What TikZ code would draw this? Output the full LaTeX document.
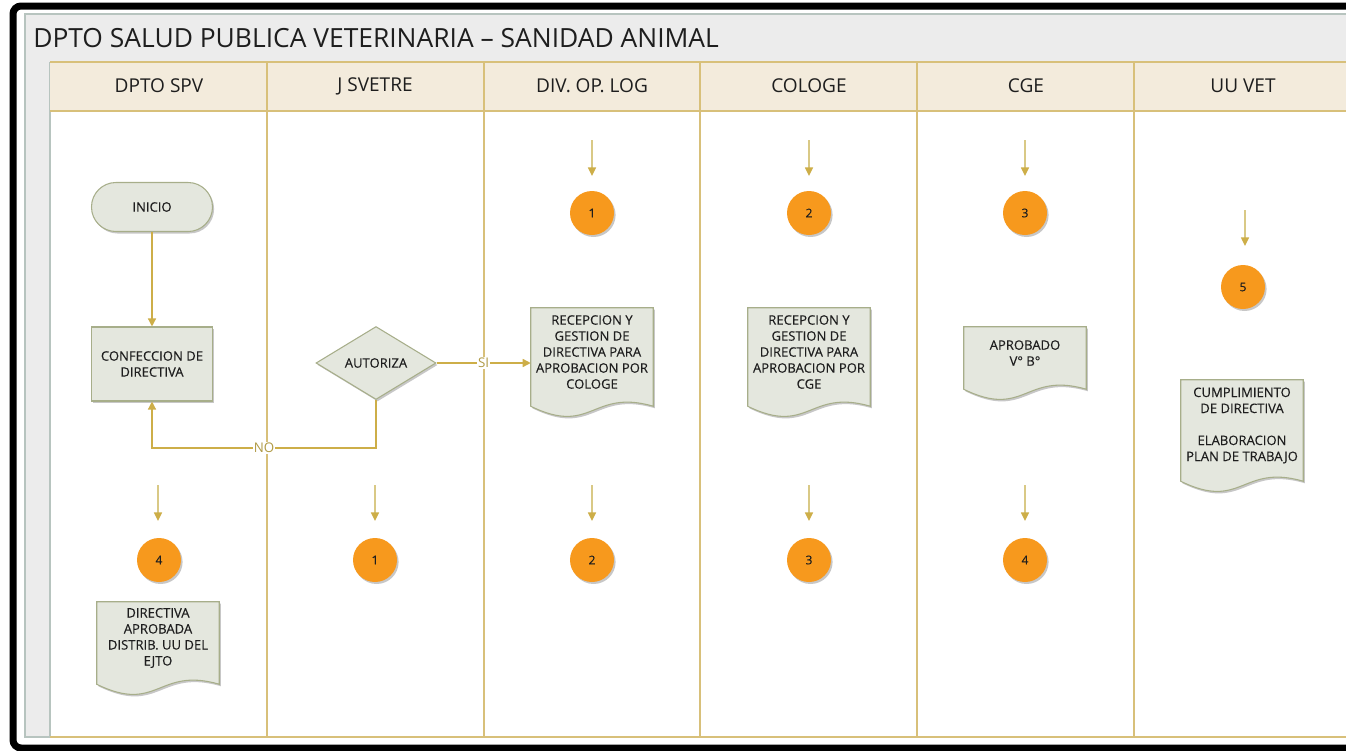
\documentclass[tikz,border=0pt]{standalone}
\usepackage{fontspec}
\setmainfont{Open Sans}
\newfontfamily\boxfont[FakeBold=0.25]{Open Sans}
\usetikzlibrary{arrows.meta,shapes.geometric,shadows,calc}
\definecolor{bandgray}{HTML}{ECECEC}
\definecolor{bandborder}{HTML}{B7C4BF}
\definecolor{headfill}{HTML}{F3EBDC}
\definecolor{laneline}{HTML}{D8C07A}
\definecolor{flowcol}{HTML}{CDAE48}
\definecolor{flowlight}{HTML}{D9C986}
\definecolor{shapefill}{HTML}{E4E7DE}
\definecolor{shapeborder}{HTML}{A7AE8A}
\definecolor{orangec}{HTML}{F7991D}
\definecolor{txt}{HTML}{1E1E1E}
\definecolor{lbltxt}{HTML}{B09A45}
\pgfdeclarelayer{bg}
\pgfdeclarelayer{shp}
\pgfsetlayers{bg,shp,main}
% document shape drawn around a named node, shifted down by 5 px
\newcommand\docwave[1]{%
  \begin{pgfonlayer}{shp}
    \draw[docdraw] ($(#1.north west)+(0,5)$) -- ($(#1.north east)+(0,5)$) -- ($(#1.south east)+(0,5)$)
      .. controls ($(#1.south)+(0,-13)$) and ($(#1.south)+(0,35)$) .. ($(#1.south west)+(0,5)$) -- cycle;
  \end{pgfonlayer}}
\begin{document}
\begin{tikzpicture}[x=0.75pt,y=-0.75pt,
  shadowed/.style={drop shadow={shadow xshift=1.2pt,shadow yshift=-1.5pt,opacity=0.22,fill=black}},
  boxtxt/.style={font=\boxfont\fontsize{9.8}{12}\selectfont, text=txt, align=center},
  term/.style={boxtxt, draw=shapeborder, fill=shapefill, line width=0.8pt, shadowed,
    minimum width=90.75pt, minimum height=36.75pt, rounded corners=18.3pt, inner sep=0pt},
  proc/.style={boxtxt, draw=shapeborder, fill=shapefill, line width=0.8pt, shadowed,
    minimum width=90.75pt, minimum height=55.5pt, inner sep=0pt},
  dec/.style={boxtxt, diamond, aspect=1.64, draw=shapeborder, fill=shapefill, line width=0.8pt, shadowed,
    minimum width=90pt, minimum height=54.75pt, inner sep=0pt},
  docnode/.style={boxtxt, minimum width=91.5pt, inner sep=0pt},
  docdraw/.style={draw=shapeborder, fill=shapefill, line width=0.8pt, shadowed},
  circ/.style={circle, fill=orangec, minimum size=33pt, inner sep=0pt, shadowed,
    font=\boxfont\fontsize{9}{11}\selectfont, text=txt},
  flow/.style={draw=flowcol, line width=1pt, -{Triangle[width=6pt,length=6pt]}},
  farrow/.style={draw=flowlight, line width=1.1pt, -{Triangle[width=6pt,length=6.5pt,color=flowcol]}},
  lbl/.style={fill=white, inner sep=0.5pt, text=lbltxt, font=\fontsize{10}{12}\selectfont},
  headtxt/.style={font=\fontsize{14.3}{17}\selectfont, text=txt},
  titletxt/.style={font=\fontsize{19.8}{24}\selectfont, text=txt, inner sep=0pt}
]
\useasboundingbox (0,0) rectangle (1346,750);
\clip (0,0) rectangle (1346,750);
\begin{pgfonlayer}{bg}
  % outer black frame
  \draw[line width=5.25pt, rounded corners=6pt] (13,6) rectangle (1400,748);
  % title band and left strip
  \fill[bandgray] (25,14) rectangle (1400,62);
  \fill[bandgray] (25,62) rectangle (50,737);
  \draw[bandborder, line width=1pt] (1400,14) -- (25,14) -- (25,737) -- (50,737);
  \draw[bandborder, line width=1pt] (50,62) -- (50,737);
  % header row
  \fill[headfill] (50,62) rectangle (1400,111);
  \draw[laneline, line width=1.2pt] (50,62) -- (1400,62);
  \draw[laneline, line width=1.2pt] (50,111) -- (1400,111);
  \draw[laneline, line width=1.2pt] (50,737) -- (1400,737);
  \foreach \lx in {267,484,700,917,1134}{
    \draw[laneline, line width=1.5pt] (\lx,62) -- (\lx,737);
  }
\end{pgfonlayer}

% title and headers
\node[titletxt, anchor=west] (title) at (33,38) {DPTO SALUD PUBLICA VETERINARIA – SANIDAD ANIMAL};
\node[headtxt] (h1) at (159,86) {DPTO SPV};
\node[headtxt] (h2) at (375,86) {J SVETRE};
\node[headtxt] (h3) at (592,86) {DIV. OP. LOG};
\node[headtxt] (h4) at (809,86) {COLOGE};
\node[headtxt] (h5) at (1026,86) {CGE};
\node[headtxt] (h6) at (1243,86) {UU VET};

% flow shapes
\node[term] (inicio) at (152,207) {INICIO};
\node[proc] (conf) at (152,364) {CONFECCION DE\\DIRECTIVA};
\node[dec] (aut) at (376,363) {AUTORIZA};

\node[docnode, minimum height=73.5pt] (d1) at (592,352) {RECEPCION Y\\GESTION DE\\DIRECTIVA PARA\\APROBACION POR\\COLOGE};
\docwave{d1}
\node[docnode, minimum height=73.5pt] (d2) at (809,352) {RECEPCION Y\\GESTION DE\\DIRECTIVA PARA\\APROBACION POR\\CGE};
\docwave{d2}
\node[docnode, minimum height=46.5pt] (d3) at (1025,353) {APROBADO\\V° B°};
\docwave{d3}
\node[docnode, minimum height=75.75pt] (d4) at (1242,425.5) {CUMPLIMIENTO\\DE DIRECTIVA\\[12pt]ELABORACION\\PLAN DE TRABAJO};
\docwave{d4}
\node[docnode, minimum height=61.5pt] (d5) at (158,638) {DIRECTIVA\\APROBADA\\DISTRIB. UU DEL\\EJTO};
\docwave{d5}

% connectors
\draw[flow] (inicio) -- (conf);
\draw[flow] (aut.east) -- node[lbl] {SI} (aut.east -| d1.west);
\draw[flow] (aut.south) -- ++(0,48) -| node[lbl, pos=0.25] {NO} (conf.south);

% off-page connectors (circles)
\node[circ] (t1) at (592,213) {1};
\node[circ] (t2) at (809,213) {2};
\node[circ] (t3) at (1025,213) {3};
\node[circ] (t5) at (1243,287) {5};
\node[circ] (b4) at (159,560) {4};
\node[circ] (b1) at (375,560) {1};
\node[circ] (b2) at (592,560) {2};
\node[circ] (b3) at (809,560) {3};
\node[circ] (b4b) at (1025,560) {4};

\foreach \cx in {592,809,1025}{
  \coordinate (ts\cx) at (\cx,140);
  \coordinate (te\cx) at (\cx,176);
  \draw[farrow] (ts\cx) -- (te\cx);
}
\coordinate (ts5) at (1245,210);
\coordinate (te5) at (1245,246);
\draw[farrow] (ts5) -- (te5);
\foreach \cx in {158,375,592,809,1025}{
  \coordinate (bs\cx) at (\cx,485);
  \coordinate (be\cx) at (\cx,521);
  \draw[farrow] (bs\cx) -- (be\cx);
}
\end{tikzpicture}
\end{document}
